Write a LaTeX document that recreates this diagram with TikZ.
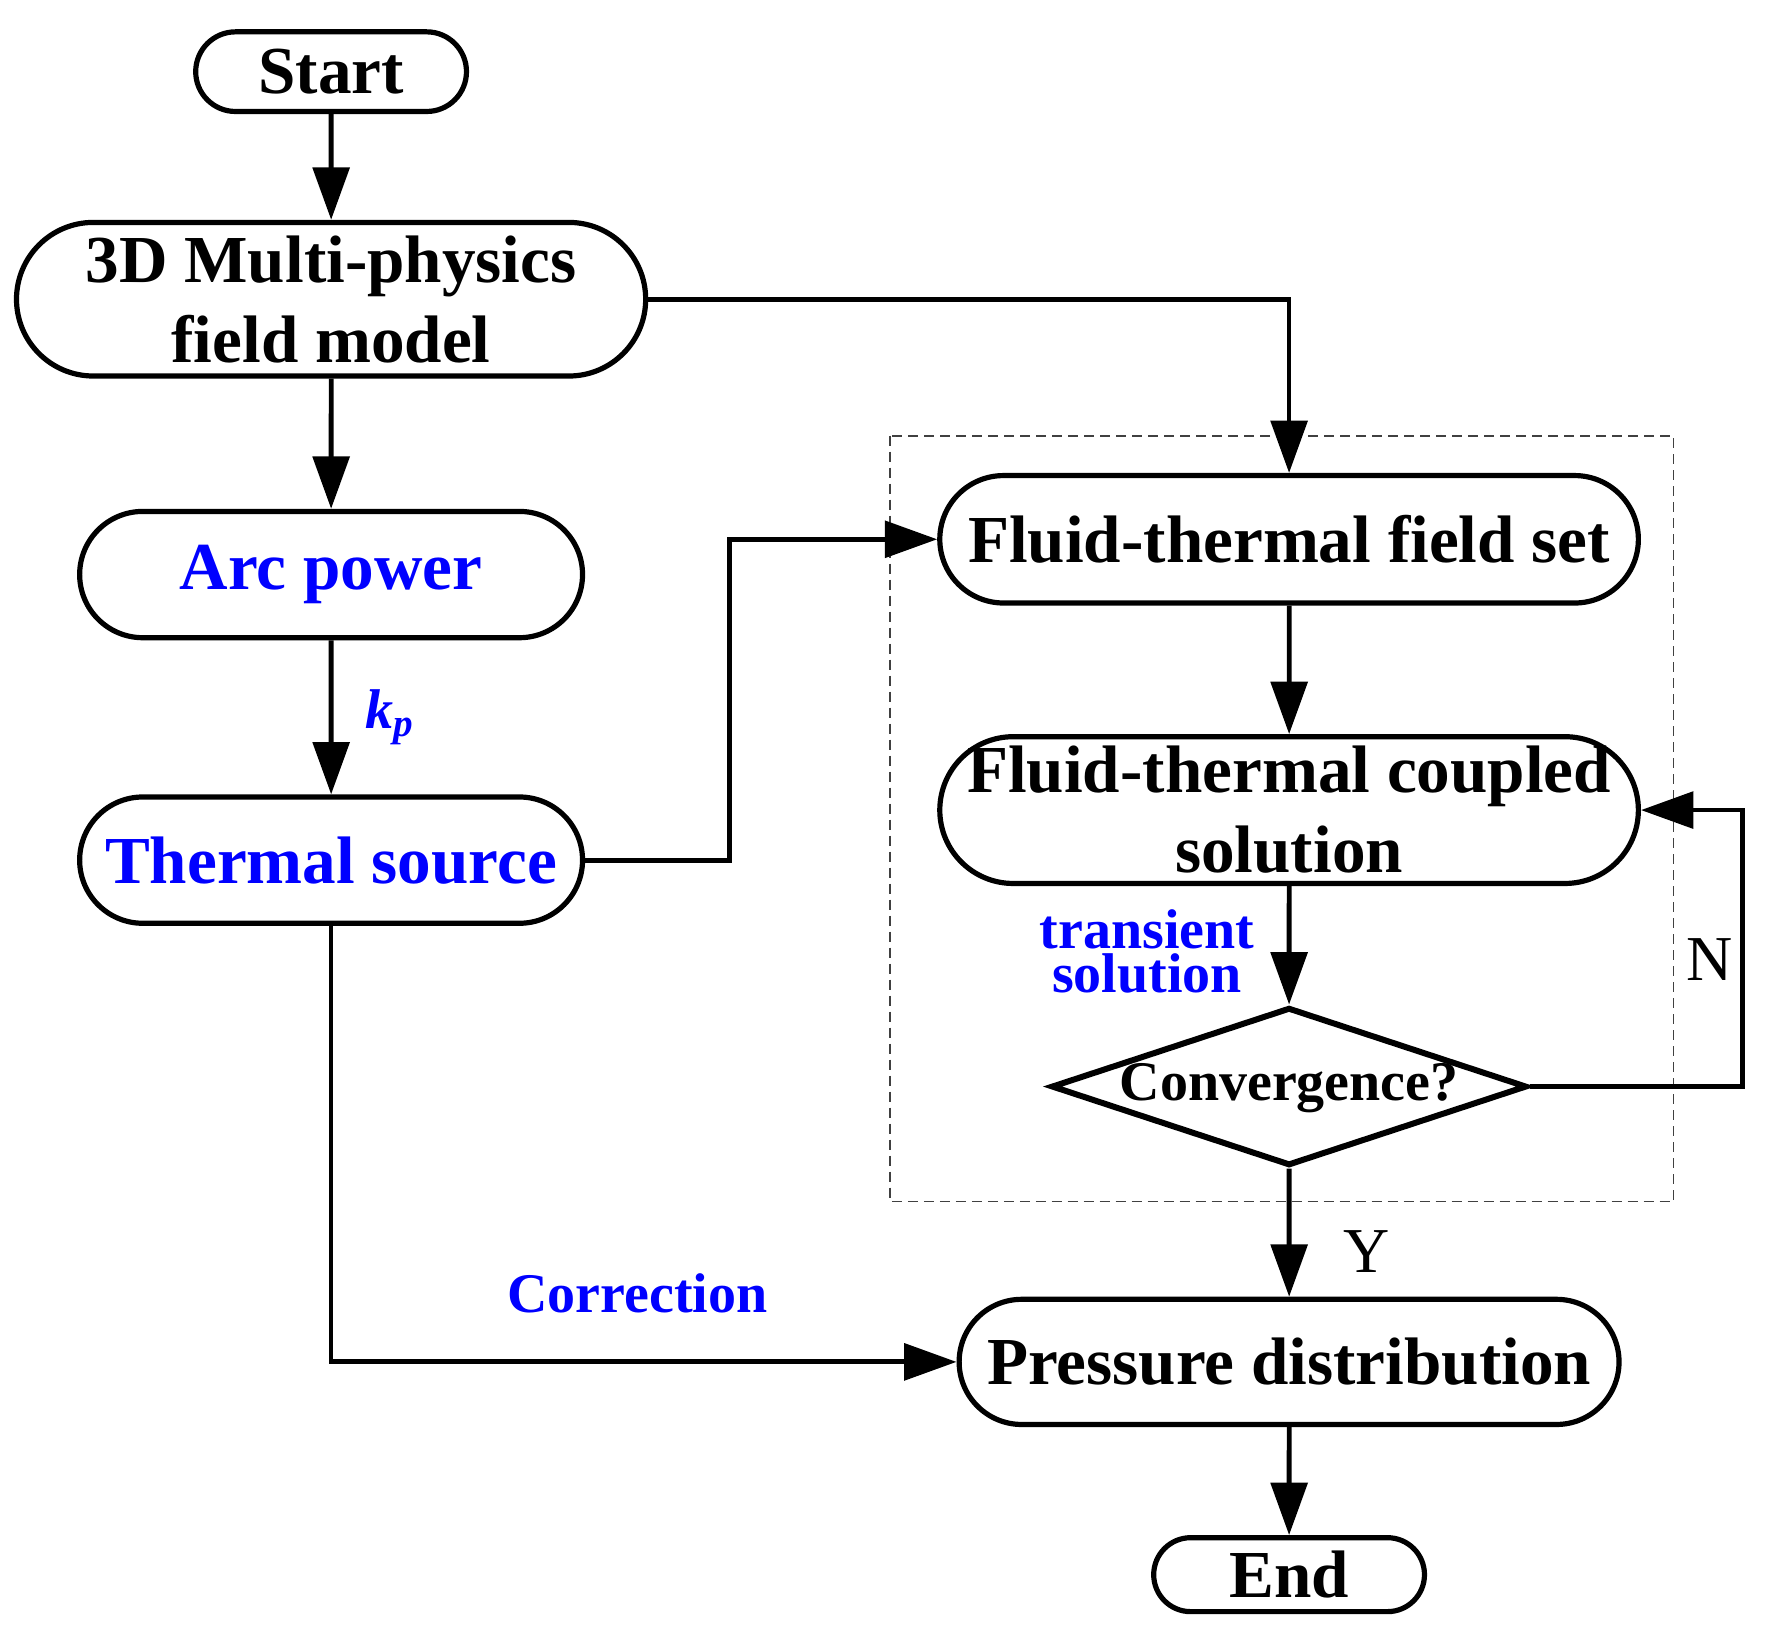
\documentclass[tikz,border=0pt]{standalone}
\usepackage{fontspec}
\setmainfont{Liberation Serif}
\usepackage{tikz}
\usetikzlibrary{shapes,arrows.meta}

\begin{document}
\begin{tikzpicture}[->,>={Triangle[length=4.6mm,width=3.2mm]},line width=1.2pt,auto,node distance=2.42cm,
            term/.style={rounded rectangle,draw,line width=1.3pt,inner sep=0pt,align=center,
                         font=\fontsize{16.8}{20}\selectfont\bfseries},
            decide/.style={diamond,draw,line width=1.5pt,inner sep=0pt,aspect=3,text height=0.3cm,text depth=0.05cm,
                         font=\fontsize{14}{16}\selectfont\bfseries},
            note/.style={text=blue,font=\fontsize{14}{11}\selectfont\bfseries,align=center}]
            \useasboundingbox (0,0) rectangle (15.68,-14.33);

            \node[term,minimum width=2.38cm,minimum height=0.70cm] (start) at (2.91,-0.63) {Start};
            \node[term,minimum width=5.53cm,minimum height=1.35cm] (model) [below of=start,node distance=2.0cm] {3D Multi-physics\\field model};
            \node[term,minimum width=4.42cm,minimum height=1.11cm,text=blue] (arc) [below of=model] {Arc power};
            \node[term,minimum width=4.42cm,minimum height=1.11cm,text=blue] (heat) [below of=arc,node distance=2.51cm] {Thermal source};

            \node[term,minimum width=6.14cm,minimum height=1.12cm] (set) at (11.33,-4.74) {Fluid-thermal field set};
            \node[term,minimum width=6.14cm,minimum height=1.29cm] (solve) [below of=set,node distance=2.38cm] {\makebox[4.6cm]{Fluid-thermal coupled}\\solution};
            \node[decide,minimum width=4.18cm,minimum height=1.39cm] (conv) [below of=solve,node distance=2.43cm] {Convergence?};
            \node[term,minimum width=5.80cm,minimum height=1.10cm] (press) [below of=conv] {Pressure distribution};
            \node[term,minimum width=2.38cm,minimum height=0.65cm] (end) [below of=press,node distance=1.87cm] {End};

            % solver loop
            \draw[-,line width=0.4pt,draw=black!75,dash pattern=on 2.5pt off 1.5pt] (7.82,-3.83) rectangle (14.71,-10.56);

            \path (start) edge (model)
                  (model) edge (arc)
                  (arc) edge node[note,font=\fontsize{14}{16}\selectfont\bfseries\itshape,inner sep=8pt] {k\textsubscript{p}} (heat)
                  (set) edge (solve)
                  (solve) edge node[note,swap,inner sep=3pt,xshift=-0.18cm,yshift=-0.05cm] {transient\\solution} (conv)
                  (conv) edge node[pos=0.65,inner sep=13pt,font=\fontsize{16}{18}\selectfont] {Y} (press)
                  (press) edge (end);

            \draw (model.east) -| (set.north);
            \draw (heat.east) -- ++(1.27,0) |- (set.west);
            \draw (conv.east) -- ++(1.87,0) |- node[pos=0.23,left,inner sep=2pt,font=\fontsize{16}{18}\selectfont] {N} (solve.east);
            \draw (heat.south) |- node[note,pos=0.745,yshift=0.29cm] {Correction} (press.west);
        \end{tikzpicture}
\end{document}
